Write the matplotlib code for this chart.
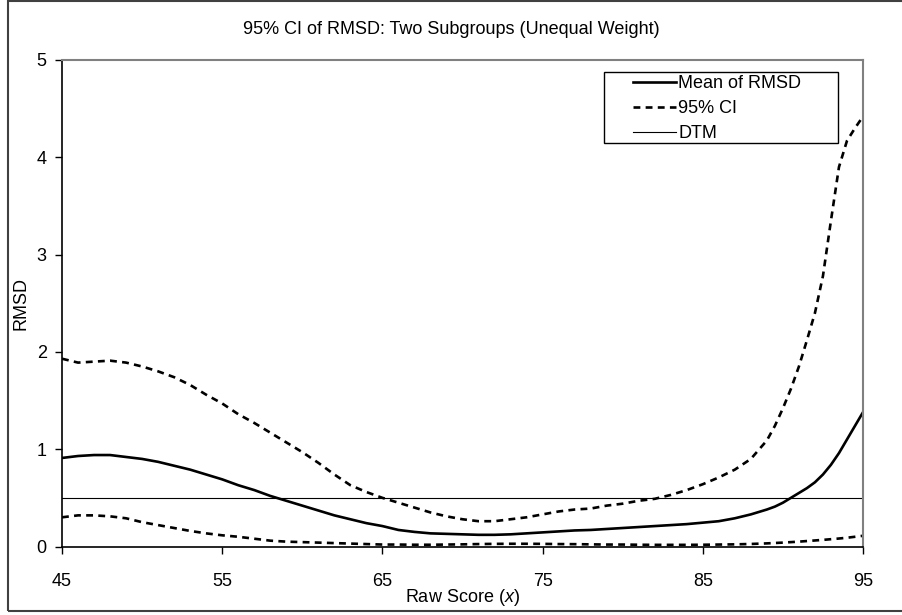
import numpy as np
import matplotlib
matplotlib.use('Agg')
import matplotlib.pyplot as plt
from matplotlib.patches import Rectangle

# 字体设置
plt.rcParams['font.family'] = ['Liberation Sans', 'DejaVu Sans']
plt.rcParams['mathtext.fontset'] = 'custom'
plt.rcParams['mathtext.it'] = 'Liberation Sans:italic'
plt.rcParams['mathtext.rm'] = 'Liberation Sans'

# 数据, 右端曲线变化快, 多读了半格的点
score = list(range(45, 89)) + [89, 89.5, 90, 90.5, 91, 91.5, 92, 92.5,
                                93, 93.5, 94, 94.5, 95]
mean_rmsd = [0.91, 0.93, 0.94, 0.94, 0.92, 0.90, 0.87, 0.83, 0.79, 0.74,
             0.69, 0.63, 0.58, 0.52, 0.47, 0.42, 0.37, 0.32, 0.28, 0.24,
             0.21, 0.17, 0.15, 0.135, 0.13, 0.125, 0.12, 0.12, 0.125, 0.135,
             0.145, 0.155, 0.165, 0.17, 0.18, 0.19, 0.20, 0.21, 0.22, 0.23,
             0.245, 0.26, 0.29, 0.33,
             0.38, 0.41, 0.45, 0.50, 0.55, 0.60, 0.66, 0.74, 0.84, 0.96,
             1.10, 1.24, 1.38]
ci_upper = [1.93, 1.89, 1.90, 1.91, 1.89, 1.85, 1.80, 1.74, 1.66, 1.56,
            1.47, 1.36, 1.27, 1.17, 1.07, 0.97, 0.86, 0.74, 0.63, 0.56,
            0.50, 0.45, 0.40, 0.35, 0.31, 0.28, 0.26, 0.26, 0.28, 0.30,
            0.33, 0.36, 0.38, 0.39, 0.42, 0.44, 0.47, 0.49, 0.53, 0.58,
            0.64, 0.71, 0.79, 0.90,
            1.09, 1.24, 1.42, 1.62, 1.85, 2.12, 2.40, 2.78, 3.35, 3.90,
            4.17, 4.30, 4.42]
ci_lower = [0.30, 0.32, 0.32, 0.31, 0.29, 0.25, 0.22, 0.19, 0.16, 0.135,
            0.115, 0.10, 0.08, 0.06, 0.05, 0.045, 0.04, 0.035, 0.03, 0.025,
            0.02, 0.02, 0.018, 0.018, 0.02, 0.022, 0.025, 0.027, 0.028, 0.028,
            0.027, 0.025, 0.024, 0.022, 0.02, 0.02, 0.018, 0.017, 0.017, 0.017,
            0.018, 0.02, 0.022, 0.026,
            0.032, 0.036, 0.04, 0.045, 0.05, 0.056, 0.062, 0.068, 0.075, 0.082,
            0.09, 0.10, 0.11]
dtm = 0.5
x_ticks = [45, 55, 65, 75, 85, 95]
y_ticks = [0, 1, 2, 3, 4, 5]

W, H = 903, 615
fig = plt.figure(figsize=(W / 100, H / 100), dpi=100, facecolor='w')
ax = fig.add_axes([62 / W, (H - 546.5) / H, 801 / W, 486.5 / H])

ax.plot(score, mean_rmsd, color='black', lw=1.9, label='Mean of RMSD')
ax.plot(score, ci_upper, color='black', lw=1.9, dashes=(2.6, 2.0), label='95% CI')
ax.plot(score, ci_lower, color='black', lw=1.9, dashes=(2.6, 2.0))
ax.axhline(dtm, color='black', lw=0.8, label='DTM')

ax.set_xlim(45, 95)
ax.set_ylim(0, 5)
ax.set_xticks(x_ticks)
ax.set_yticks(y_ticks)
ax.tick_params(axis='both', direction='out', length=5, width=1, labelsize=13)
ax.tick_params(axis='x', pad=14)
ax.tick_params(axis='y', pad=6)

for s in ['left', 'bottom']:
    ax.spines[s].set_color('black')
    ax.spines[s].set_linewidth(1.2)
for s in ['top', 'right']:
    ax.spines[s].set_color('#808080')
    ax.spines[s].set_linewidth(1.5)

ax.set_xlabel(r'Raw Score ($\mathit{x}$)', fontsize=13, labelpad=-2)
ax.set_ylabel('RMSD', fontsize=13, labelpad=5)
fig.text(0.5, (H - 30) / H, '95% CI of RMSD: Two Subgroups (Unequal Weight)',
         ha='center', va='center', fontsize=13)

# 图例
leg = ax.legend(loc='upper left', bbox_to_anchor=((633 - 62) / 801, (546.5 - 75) / 486.5),
                borderaxespad=0, borderpad=0, frameon=False, fontsize=13,
                handlelength=2.4, handletextpad=0.1, labelspacing=0.45)
fig.add_artist(Rectangle((604 / W, (H - 143) / H), 234 / W, 71 / H,
                         transform=fig.transFigure, fill=False, lw=1, ec='black'))

# 外框
fig.add_artist(Rectangle((8 / W, (H - 611) / H), 1.0, 610 / H,
                         transform=fig.transFigure, fill=False, lw=1.5, ec='#404040'))

plt.savefig('out.png', dpi=100)
